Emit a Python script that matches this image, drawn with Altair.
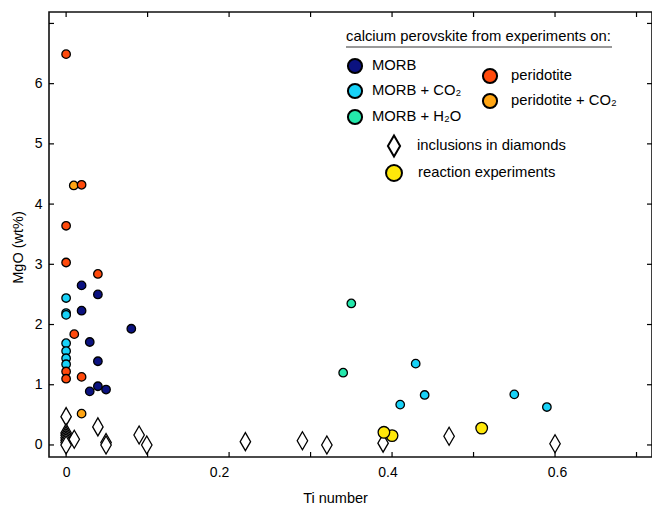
import altair as alt
import pandas as pd

# ---------------- data ----------------
morb_x = [0.019, 0.039, 0.019, 0.080, 0.029, 0.039, 0.039, 0.029, 0.049]
morb_y = [2.65, 2.50, 2.23, 1.93, 1.71, 1.39, 0.975, 0.89, 0.92]

morbco2_x = [0, 0, 0, 0, 0, 0, 0, 0.429, 0.41, 0.44, 0.55, 0.59]
morbco2_y = [2.44, 2.19, 2.16, 1.69, 1.56, 1.44, 1.34, 1.35, 0.67, 0.83, 0.84, 0.63]

morbh2o_x = [0.35, 0.34]
morbh2o_y = [2.35, 1.20]

perid_x = [0, 0.019, 0, 0, 0.039, 0.01, 0, 0, 0.019]
perid_y = [6.49, 4.32, 3.64, 3.03, 2.84, 1.84, 1.22, 1.10, 1.13]

peridco2_x = [0.0094, 0.019]
peridco2_y = [4.31, 0.52]

react_x = [0.40, 0.39, 0.51]
react_y = [0.155, 0.21, 0.28]

diam_x = [0, 0, 0, 0, 0, 0, 0, 0.01, 0.039, 0.049, 0.049, 0.0896, 0.099,
          0.22, 0.29, 0.32, 0.389, 0.47, 0.60]
diam_y = [0.47, 0.20, 0.16, 0.12, 0.08, 0.04, 0.0, 0.095, 0.30, 0.04, 0.0, 0.166, 0.0,
          0.055, 0.07, 0.0, 0.03, 0.145, 0.02]

series_names = ["MORB", "MORB + CO₂", "MORB + H₂O", "peridotite", "peridotite + CO₂",
                "reaction experiments"]
series_colors = ["#0B1280", "#18D2F8", "#24E8AC", "#FF4A0C", "#FFA514", "#FFE80A"]

x_ticks = [0, 0.1, 0.2, 0.3, 0.4, 0.5, 0.6, 0.7]
x_labels = [0, 0.2, 0.4, 0.6]
y_ticks = [0, 1, 2, 3, 4, 5, 6, 7]
y_labels = [0, 1, 2, 3, 4, 5, 6]

legend_title = "calcium perovskite from experiments on:"
diamond_label = "inclusions in diamonds"

# ---------------- tables ----------------
rows = []
for name, xs, ys in [("MORB + CO₂", morbco2_x, morbco2_y),
                     ("MORB + H₂O", morbh2o_x, morbh2o_y),
                     ("MORB", morb_x, morb_y),
                     ("peridotite + CO₂", peridco2_x, peridco2_y),
                     ("peridotite", perid_x, perid_y)]:
    for a, b in zip(xs, ys):
        rows.append({"x": a, "y": b, "series": name})
pts = pd.DataFrame(rows)
react = pd.DataFrame({"x": react_x, "y": react_y, "series": "reaction experiments"})
diam = pd.DataFrame({"x": diam_x, "y": diam_y})

W, H = 603, 445
FONT = "Liberation Sans"
xscale = alt.Scale(domain=[-0.021, 0.719], nice=False, zero=False)
yscale = alt.Scale(domain=[-0.2, 7.19], nice=False, zero=False)
cscale = alt.Scale(domain=series_names, range=series_colors)
DIAMOND = "M0,-1L0.58,0L0,1L-0.58,0Z"

xlabel_offset = {
    "condition": [
        {"test": "datum.value > 0.1 && datum.value < 0.3", "value": -10},
        {"test": "datum.value > 0.3 && datum.value < 0.5", "value": -4.5},
        {"test": "datum.value > 0.5", "value": 2},
    ],
    "value": 0,
}

xaxis = alt.Axis(values=x_labels, ticks=False, domain=False, grid=False,
                 labelExpr="datum.value == 0 ? '0' : format(datum.value, '.1f')",
                 labelFontSize=14, labelFont=FONT, labelColor="black", labelPadding=8,
                 labelOffset=xlabel_offset,
                 title="Ti number", titleFont=FONT, titleFontSize=14.5, titleFontWeight="normal",
                 titleColor="black", titleX=286, titleY=45, titleAnchor="middle",
                 titleAlign="center", titleBaseline="alphabetic")
yaxis = alt.Axis(values=y_labels, ticks=False, domain=False, grid=False, format="d",
                 labelFontSize=14, labelFont=FONT, labelColor="black", labelPadding=7,
                 title="MgO (wt%)", titleFont=FONT, titleFontSize=14.5, titleFontWeight="normal",
                 titleColor="black", titleX=-31, titleY=235, titleAngle=270,
                 titleAlign="center", titleBaseline="middle")


def X(field="x"):
    return alt.X(f"{field}:Q", scale=xscale, axis=xaxis)


def Y(field="y"):
    return alt.Y(f"{field}:Q", scale=yscale, axis=yaxis)


diamonds = alt.Chart(diam).mark_point(
    shape=DIAMOND, filled=True, fill="white", stroke="black", strokeWidth=1.3,
    size=324, opacity=1
).encode(x=X(), y=Y())

circles = alt.Chart(pts).mark_circle(stroke="black", strokeWidth=1.3, opacity=1, size=72).encode(
    x=X(), y=Y(),
    color=alt.Color("series:N", scale=cscale, legend=None),
)
reaction = alt.Chart(react).mark_circle(stroke="black", strokeWidth=1.3, opacity=1, size=135).encode(
    x=X(), y=Y(),
    color=alt.Color("series:N", scale=cscale, legend=None),
)

# inward tick marks on all four sides
xt = pd.DataFrame({"x": x_ticks})
yt = pd.DataFrame({"y": y_ticks})
tick_style = dict(color="black", strokeWidth=1.2)
bottom_ticks = alt.Chart(xt).mark_rule(**tick_style).encode(
    x=X(), y=alt.value(H), y2=alt.value(H - 5))
top_ticks = alt.Chart(xt).mark_rule(**tick_style).encode(
    x=X(), y=alt.value(0), y2=alt.value(5))
left_ticks = alt.Chart(yt).mark_rule(**tick_style).encode(
    y=Y(), x=alt.value(0), x2=alt.value(5))
right_ticks = alt.Chart(yt).mark_rule(**tick_style).encode(
    y=Y(), x=alt.value(W), x2=alt.value(W - 5))

# ---------------- hand-placed legend ----------------
one = pd.DataFrame({"t": [0]})
legend_layers = []
legend_layers.append(alt.Chart(one).mark_text(
    align="left", baseline="middle", font=FONT, fontSize=14.8, color="black", text=legend_title
).encode(x=alt.value(297), y=alt.value(25)))
legend_layers.append(alt.Chart(one).mark_rule(color="#777777", strokeWidth=1.6).encode(
    x=alt.value(297), x2=alt.value(563), y=alt.value(35)))

leg_sym_xy = [(306, 54), (306, 79), (306, 105), (441, 64), (441, 89), (345, 161)]
leg_sym_size = [200, 200, 200, 200, 200, 255]
for name, col, (px, py), s in zip(series_names, series_colors, leg_sym_xy, leg_sym_size):
    legend_layers.append(alt.Chart(one).mark_circle(
        stroke="black", strokeWidth=2, opacity=1, size=s, fill=col
    ).encode(x=alt.value(px), y=alt.value(py)))

leg_labels = series_names[:5] + [diamond_label, series_names[5]]
leg_txt_xy = [(323, 54), (323, 79), (323, 105), (462, 64), (462, 89), (368, 134), (369, 161)]
for lab, (px, py) in zip(leg_labels, leg_txt_xy):
    legend_layers.append(alt.Chart(one).mark_text(
        align="left", baseline="middle", font=FONT, fontSize=14.8, color="black", text=lab
    ).encode(x=alt.value(px), y=alt.value(py)))

legend_layers.append(alt.Chart(one).mark_point(
    shape=DIAMOND, filled=True, fill="white", stroke="black", strokeWidth=2, size=441, opacity=1
).encode(x=alt.value(345), y=alt.value(134)))

chart = alt.layer(
    diamonds, circles, reaction,
    bottom_ticks, top_ticks, left_ticks, right_ticks,
    *legend_layers,
).properties(
    width=W, height=H,
    padding={"left": 49, "top": 12, "right": 0, "bottom": 49},
    autosize=alt.AutoSizeParams(type="none"),
    background="white",
).configure_view(
    stroke="#111111", strokeWidth=1.6
)

chart.save("out.html", embed_options={"renderer": "svg", "actions": False})
